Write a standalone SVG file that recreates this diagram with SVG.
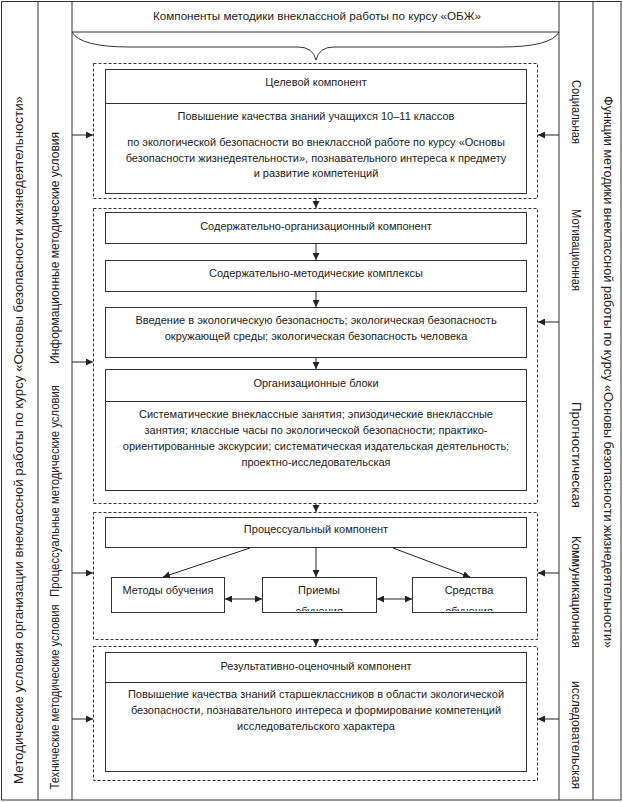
<svg xmlns="http://www.w3.org/2000/svg" width="623" height="802" viewBox="0 0 623 802">
<style>
text{font-family:"Liberation Sans",Arial,sans-serif;font-size:11px;fill:#222;text-anchor:middle}
.v{font-size:12px}
.box{fill:#fff;stroke:#333;stroke-width:1}
.dash{fill:none;stroke:#333;stroke-width:1;stroke-dasharray:3,2}
.ln{fill:none;stroke:#333;stroke-width:1}
.arr{fill:none;stroke:#222;stroke-width:1;marker-end:url(#ah)}
.darr{fill:none;stroke:#222;stroke-width:1;marker-end:url(#ah);marker-start:url(#as)}
</style>
<defs>
<marker id="ah" viewBox="0 0 10 10" refX="10" refY="5" markerWidth="7" markerHeight="7" markerUnits="userSpaceOnUse" orient="auto"><path d="M0,0L10,5L0,10z" fill="#222"/></marker>
<marker id="as" viewBox="0 0 10 10" refX="0" refY="5" markerWidth="7" markerHeight="7" markerUnits="userSpaceOnUse" orient="auto"><path d="M10,0L0,5L10,10z" fill="#222"/></marker>
<clipPath id="c2"><rect x="262" y="577" width="114" height="34"/></clipPath>
<clipPath id="c3"><rect x="412" y="577" width="114" height="34"/></clipPath>
</defs>
<rect width="623" height="802" fill="#fff"/>
<g id="frame">
<rect x="1.5" y="1.5" width="619.5" height="798.5" class="ln"/>
<line x1="38" y1="1.5" x2="38" y2="800" class="ln"/>
<line x1="72" y1="1.5" x2="72" y2="800" class="ln"/>
<line x1="559" y1="1.5" x2="559" y2="800" class="ln"/>
<line x1="593" y1="1.5" x2="593" y2="800" class="ln"/>
<line x1="72" y1="32" x2="559" y2="32" class="ln"/>
<path d="M72,32 Q80,47 130,47 L298,47 Q313,47 316,60 Q319,47 334,47 L501,47 Q551,47 559,32" class="ln"/>
</g>
<g id="title"><text x="317" y="20" textLength="328" lengthAdjust="spacingAndGlyphs">Компоненты методики внеклассной работы по курсу «ОБЖ»</text></g>
<g id="left-main"><text class="v" transform="translate(23,440) rotate(-90)" textLength="688" lengthAdjust="spacingAndGlyphs">Методические условия организации внеклассной работы по курсу «Основы безопасности жизнедеятельности»</text></g>
<g id="left-info"><text class="v" transform="translate(59,248) rotate(-90)" textLength="232" lengthAdjust="spacingAndGlyphs">Информационные методические условия</text></g>
<g id="left-proc"><text class="v" transform="translate(59,491) rotate(-90)" textLength="212" lengthAdjust="spacingAndGlyphs">Процессуальные методические условия</text></g>
<g id="left-tech"><text class="v" transform="translate(59,697) rotate(-90)" textLength="185" lengthAdjust="spacingAndGlyphs">Технические методические условия</text></g>
<g id="right-main"><text class="v" transform="translate(604,372) rotate(90)" textLength="552" lengthAdjust="spacingAndGlyphs">Функции методики внеклассной работы по курсу «Основы безопасности жизнедеятельности»</text></g>
<g id="right-soc"><text class="v" transform="translate(572,112) rotate(90)" textLength="64" lengthAdjust="spacingAndGlyphs">Социальная</text></g>
<g id="right-mot"><text class="v" transform="translate(572,250) rotate(90)" textLength="82" lengthAdjust="spacingAndGlyphs">Мотивационная</text></g>
<g id="right-prog"><text class="v" transform="translate(572,455) rotate(90)" textLength="106" lengthAdjust="spacingAndGlyphs">Прогностическая</text></g>
<g id="right-comm"><text class="v" transform="translate(572,592) rotate(90)" textLength="112" lengthAdjust="spacingAndGlyphs">Коммуникационная</text></g>
<g id="right-res"><text class="v" transform="translate(572,735) rotate(90)" textLength="108" lengthAdjust="spacingAndGlyphs">исследовательская</text></g>

<g id="group-goal">
<rect x="93.5" y="63.5" width="444" height="135" class="dash"/>
<rect x="105.5" y="69.5" width="421" height="124" class="box"/>
<line x1="105.5" y1="103.5" x2="526.5" y2="103.5" class="ln"/>
<text x="316" y="86">Целевой компонент</text>
<text x="316" y="120">Повышение качества знаний учащихся 10–11 классов</text>
<text x="316" y="146">по экологической безопасности во внеклассной работе по курсу «Основы</text>
<text x="316" y="162">безопасности жизнедеятельности», познавательного интереса к предмету</text>
<text x="316" y="177">и развитие компетенций</text>
</g>
<g id="group-content">
<rect x="93.5" y="208.5" width="444" height="295" class="dash"/>
</g>
<g id="n-so"><rect x="105.5" y="212.5" width="421" height="31" class="box"/><text x="316" y="230">Содержательно-организационный компонент</text></g>
<g id="n-smk"><rect x="105.5" y="260.5" width="421" height="31" class="box"/><text x="316" y="277">Содержательно-методические комплексы</text></g>
<g id="n-intro"><rect x="105.5" y="307.5" width="421" height="50" class="box"/><text x="316" y="324">Введение в экологическую безопасность; экологическая безопасность</text><text x="316" y="340">окружающей среды; экологическая безопасность человека</text></g>
<g id="n-blocks"><rect x="105.5" y="369.5" width="421" height="121" class="box"/><line x1="105.5" y1="401.5" x2="526.5" y2="401.5" class="ln"/>
<text x="316" y="387">Организационные блоки</text>
<text x="316" y="418">Систематические внеклассные занятия;  эпизодические внеклассные</text>
<text x="316" y="434">занятия; классные часы по экологической безопасности; практико-</text>
<text x="316" y="450">ориентированные экскурсии; систематическая издательская деятельность;</text>
<text x="316" y="466">проектно-исследовательская</text>
</g>
<g id="group-proc">
<rect x="93.5" y="512.5" width="444" height="127" class="dash"/>
</g>
<g id="n-proc"><rect x="105.5" y="517.5" width="421" height="30" class="box"/><text x="316" y="533">Процессуальный компонент</text></g>
<g id="n-methods"><rect x="111.5" y="577.5" width="113" height="35" class="box"/><text x="168" y="594">Методы обучения</text></g>
<g id="n-techniques"><rect x="262.5" y="577.5" width="114" height="35" class="box"/><text x="319" y="594">Приемы</text><text x="319" y="615" clip-path="url(#c2)">обучения</text></g>
<g id="n-means"><rect x="412.5" y="577.5" width="114" height="35" class="box"/><text x="469" y="594">Средства</text><text x="469" y="615" clip-path="url(#c3)">обучения</text></g>
<g id="group-result">
<rect x="93.5" y="646.5" width="444" height="134" class="dash"/>
<rect x="105.5" y="652.5" width="421" height="119" class="box"/>
<line x1="105.5" y1="682.5" x2="526.5" y2="682.5" class="ln"/>
<text x="316" y="670">Результативно-оценочный компонент</text>
<text x="316" y="698">Повышение качества знаний  старшеклассников в области экологической</text>
<text x="316" y="714">безопасности, познавательного интереса и формирование компетенций</text>
<text x="316" y="730">исследовательского характера</text>
</g>
<g id="connectors">
<line x1="316" y1="198" x2="316" y2="208" class="arr"/>
<line x1="316" y1="244" x2="316" y2="260" class="arr"/>
<line x1="316" y1="292" x2="316" y2="307" class="arr"/>
<line x1="316" y1="358" x2="316" y2="369" class="arr"/>
<line x1="316" y1="504" x2="316" y2="512" class="arr"/>
<line x1="316" y1="640" x2="316" y2="646" class="arr"/>
<line x1="250" y1="548" x2="163" y2="577" class="arr"/>
<line x1="316" y1="548" x2="316" y2="577" class="arr"/>
<line x1="393" y1="548" x2="470" y2="577" class="arr"/>
<line x1="225" y1="599" x2="262" y2="599" class="darr"/>
<line x1="377" y1="599" x2="412" y2="599" class="darr"/>
<line x1="72" y1="135" x2="93" y2="135" class="arr"/>
<line x1="72" y1="362" x2="93" y2="362" class="arr"/>
<line x1="72" y1="573" x2="93" y2="573" class="arr"/>
<line x1="72" y1="719" x2="93" y2="719" class="arr"/>
<line x1="559" y1="135" x2="538" y2="135" class="arr"/>
<line x1="559" y1="322" x2="538" y2="322" class="arr"/>
<line x1="559" y1="573" x2="538" y2="573" class="arr"/>
<line x1="559" y1="719" x2="538" y2="719" class="arr"/>
</g>
</svg>
